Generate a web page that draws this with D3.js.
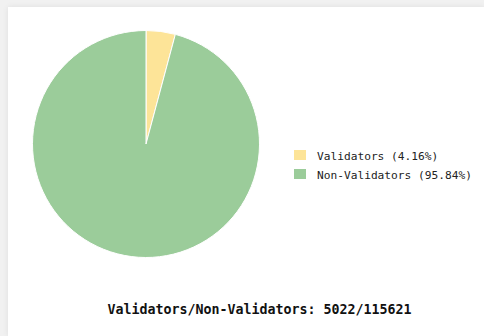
<!DOCTYPE html>
<html>
<head>
<meta charset="utf-8">
<script src="https://d3js.org/d3.v7.min.js"></script>
<style>
  html, body { margin: 0; padding: 0; }
  body { width: 484px; height: 336px; background: #f1f1f1; overflow: hidden; position: relative; }
  #panel {
    position: absolute; left: 8px; top: 7px; width: 476px; height: 329px;
    background: #fff; box-shadow: 0 0 6px rgba(0,0,0,0.08);
  }
  svg { position: absolute; left: 0; top: 0; }
</style>
</head>
<body>
<div id="panel"></div>
<script>
// Data
const labels = ["Validators", "Non-Validators"];
const counts = [5022, 115621];
const colors = ["#fde498", "#9bcc9a"];

const width = 484;
const height = 336;
const total = d3.sum(counts);

const svg = d3
  .select("body")
  .append("svg")
  .attr("width", width)
  .attr("height", height)
  .style("font-family", '"DejaVu Sans Mono", monospace');

// Pie
const radius = 113.5;
const pieG = svg.append("g").attr("transform", "translate(146, 144)");

const pie = d3.pie().sort(null).value((d) => d);
const arc = d3.arc().innerRadius(0).outerRadius(radius);

pieG
  .selectAll("path")
  .data(pie(counts))
  .enter()
  .append("path")
  .attr("d", arc)
  .attr("fill", (d, i) => colors[i])
  .attr("stroke", "#fff")
  .attr("stroke-width", 1);

// Legend
const legend = svg
  .append("g")
  .attr("transform", "translate(294, 150)")
  .selectAll("g")
  .data(labels)
  .enter()
  .append("g")
  .attr("transform", (d, i) => `translate(0, ${i * 19})`);

legend
  .append("rect")
  .attr("width", 12)
  .attr("height", 10)
  .attr("fill", (d, i) => colors[i]);

legend
  .append("text")
  .attr("x", 23)
  .attr("y", 9.5)
  .style("font-size", "11.2px")
  .attr("fill", "#222")
  .text((d, i) => `${d} (${((counts[i] / total) * 100).toFixed(2)}%)`);

// Title
svg
  .append("text")
  .attr("x", 259.5)
  .attr("y", 314)
  .attr("text-anchor", "middle")
  .style("font-size", "13.3px")
  .style("font-weight", "bold")
  .attr("fill", "#111")
  .text(`${labels[0]}/${labels[1]}: ${counts[0]}/${counts[1]}`);
</script>
</body>
</html>
